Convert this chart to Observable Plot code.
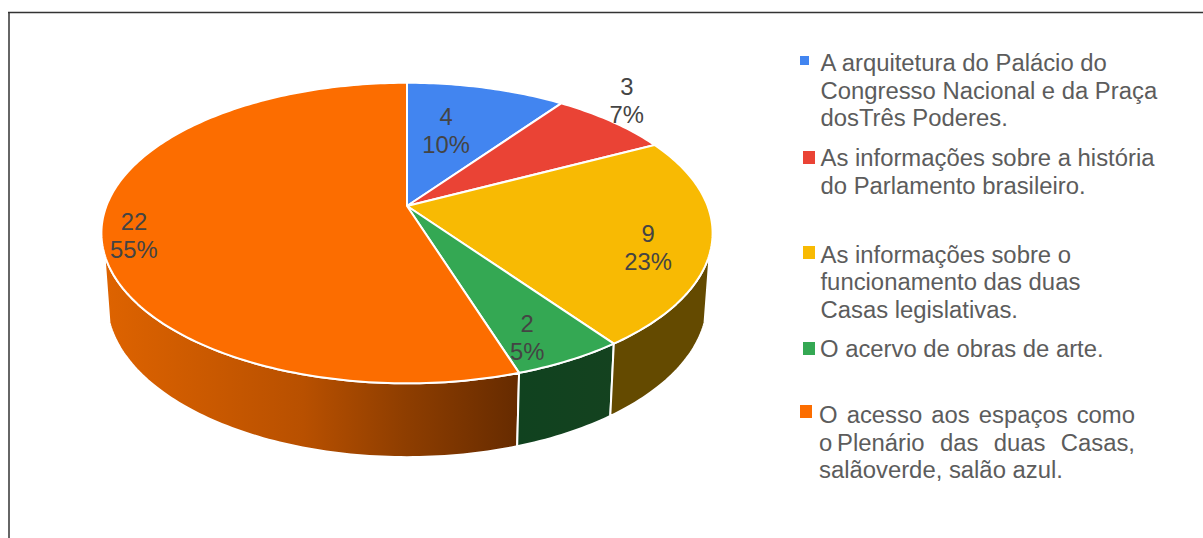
<!DOCTYPE html>
<html lang="pt">
<head>
<meta charset="utf-8">
<style>html,body{margin:0;padding:0;background:#fff}svg{display:block}</style>
<script src="https://cdn.jsdelivr.net/npm/d3@7"></script>
<script src="https://cdn.jsdelivr.net/npm/@observablehq/plot@0.6"></script>
</head>
<body>
<div id="chart"></div>
<script>
// ---- data ----
const categories = [
  "A arquitetura do Palácio do Congresso Nacional e da Praça dosTrês Poderes.",
  "As informações sobre a história do Parlamento brasileiro.",
  "As informações sobre o funcionamento das duas Casas legislativas.",
  "O acervo de obras de arte.",
  "O acesso aos espaços como o Plenário das duas Casas, salãoverde, salão azul."
];
const values = [4, 3, 9, 2, 22];
const percents = ["10%", "7%", "23%", "5%", "55%"];
const colors = ["#4285f0", "#ea4335", "#f8ba03", "#34a853", "#fc6d00"];

// ---- layout ----
const centerX = 407;
const tilt = 0.18;                 // perspective of the disc
const topFace = {A: 300.6, B: 145.4, y0: 206};
const bottomFace = {A: 295.5, B: 151, y0: 273};
const wallLimits = {right: 108, left: 252};   // degrees where the rim leaves the silhouette
const labelPlane = [[0.142, 0.583], [0.84, 0.841], [0.762, -0.266], [0.343, -0.772], [-0.879, -0.19]];
const wallStops = {
  orange: [[0, "#de6300"], [0.48, "#b85000"], [0.72, "#8f3e00"], [1, "#662b00"]],
  green: [[0, "#10421f"], [1, "#14421f"]],
  yellow: [[0, "#644a00"], [1, "#644a00"]]
};
const legendLines = [
  ["A arquitetura do Palácio do", 820, 70],
  ["Congresso Nacional e da Praça", 820, 98],
  ["dosTrês Poderes.", 820, 125],
  ["As informações sobre a história", 820, 165],
  ["do Parlamento brasileiro.", 820, 193],
  ["As informações sobre o", 820, 262],
  ["funcionamento das duas", 820, 289],
  ["Casas legislativas.", 820, 317],
  ["O acervo de obras de arte.", 819.5, 356]
];
const justifiedLines = [
  ["O acesso aos espaços como", 818.5, 422, 316],
  ["o\u2009Plenário das duas Casas,", 818.5, 450, 316]
];
const lastLine = ["salãoverde, salão azul.", 818.5, 477];
const swatches = [
  [800, 809, 56, 65], [803, 815, 151, 164], [803, 815, 246, 259], [803, 815, 342, 355], [800, 812, 405, 418]
];

// ---- geometry through the disc projection ----
const total = d3.sum(values);
const cum = d3.cumsum(values);
const startDeg = values.map((v, i) => (cum[i] - v) / total * 360);
const endDeg = values.map((v, i) => cum[i] / total * 360);
const rad = d => d * Math.PI / 180;
function project(face, u, w) {
  const d = 1 + tilt * w;
  return [centerX + face.A * u / d, face.y0 - face.B * w / d];
}
function rim(face, deg) { return project(face, Math.sin(rad(deg)), Math.cos(rad(deg))); }
function degrees(a, b) {
  const out = d3.range(a, b, 1);
  out.push(b);
  return out;
}
function wedge(i) {
  const apex = project(topFace, 0, 0);
  return degrees(startDeg[i], endDeg[i]).map(deg => {
    const p = rim(topFace, deg);
    return {x1: apex[0], y1: apex[1], x2: p[0], y2: p[1]};
  });
}
function wall(a, b) {
  return degrees(a, b).map(deg => {
    const t = rim(topFace, deg), s = rim(bottomFace, deg);
    return {x1: t[0], y1: t[1], x2: s[0], y2: s[1]};
  });
}
function gradientDefs() {
  const defs = d3.create("svg:defs");
  for (const [name, stops] of Object.entries(wallStops)) {
    const g = defs.append("linearGradient").attr("id", "wall-" + name)
      .attr("x1", 0).attr("x2", 1).attr("y1", 0).attr("y2", 0);
    for (const [o, c] of stops) g.append("stop").attr("offset", o).attr("stop-color", c);
  }
  return defs.node();
}
const areaOpts = (fill, strokeWidth) => ({
  x1: "x1", y1: "y1", x2: "x2", y2: "y2", fill, stroke: "white", strokeWidth, curve: "linear"
});
const labels = values.map((v, i) => {
  const p = project(topFace, labelPlane[i][0], labelPlane[i][1]);
  return {x: p[0], y: p[1], text: v + "\n" + percents[i]};
});
const fontFamily = "Liberation Sans, Arial, sans-serif";
const legendFont = 23.85;
const textOpts = {
  x: d => d[1], y: d => d[2], text: d => d[0], textAnchor: "start",
  fill: "#5c5c5c", fontSize: legendFont, dy: -0.32 * legendFont
};

const plot = Plot.plot({
  width: 1203, height: 538, margin: 0,
  x: {type: "linear", domain: [0, 1203], range: [0, 1203], axis: null},
  y: {type: "linear", domain: [0, 538], range: [0, 538], axis: null},
  style: {fontFamily, background: "#fff"},
  marks: [
    gradientDefs,
    Plot.ruleY([12], {x1: 8, x2: 1203, stroke: "#333", strokeWidth: 1.5}),
    Plot.ruleX([8.5], {y1: 12, y2: 538, stroke: "#333", strokeWidth: 1.5}),
    Plot.area(wall(startDeg[4], wallLimits.left), areaOpts("url(#wall-orange)", 2)),
    Plot.area(wall(startDeg[3], endDeg[3]), areaOpts("url(#wall-green)", 2)),
    Plot.area(wall(wallLimits.right, endDeg[2]), areaOpts("url(#wall-yellow)", 2)),
    ...values.map((v, i) => Plot.area(wedge(i), areaOpts(colors[i], 2))),
    Plot.text(labels, {
      x: "x", y: "y", text: "text", fill: "#444444", fontSize: 23.8, lineHeight: 1.18
    }),
    Plot.rect(swatches, {
      x1: d => d[0], x2: d => d[1], y1: d => d[2], y2: d => d[3],
      fill: (d, i) => colors[i], inset: 0
    }),
    Plot.text(legendLines, textOpts),
    Plot.text([lastLine], textOpts),
    Plot.text(justifiedLines, {...textOpts, className: "justified"})
  ]
});
document.getElementById("chart").append(plot);

// justify the two stretched legend lines by widening their word gaps
d3.select(plot).selectAll(".justified text").each(function (d, i) {
  const line = justifiedLines[i];
  const gaps = line[0].split(" ").length - 1;
  const extra = (line[3] - this.getComputedTextLength()) / gaps;
  this.style.wordSpacing = Math.max(0, extra) + "px";
});
</script>
</body>
</html>
